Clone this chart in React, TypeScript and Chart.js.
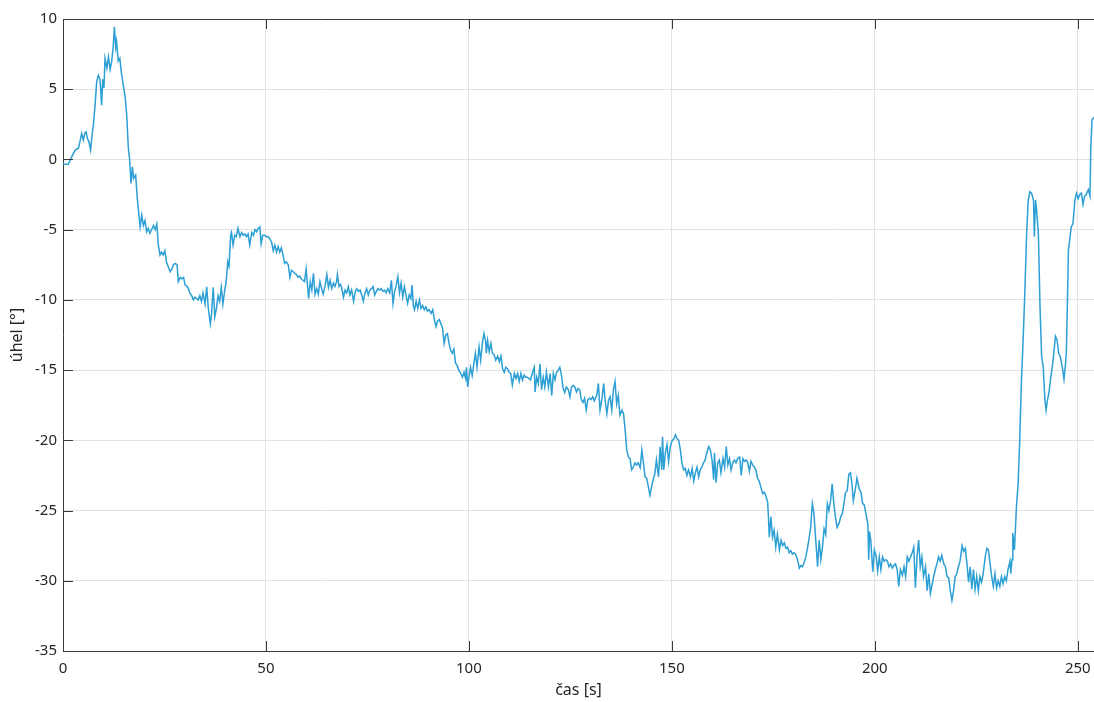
import React, { useEffect, useRef } from "react";
import { Chart, registerables } from "chart.js";

Chart.register(...registerables);

// time [s]
const timeS: number[] = [
  0, 0.7, 1.3, 2.0, 2.5, 3.0, 3.8, 4.2, 4.6, 5.0,
  5.4, 5.7, 6.0, 6.4, 6.8, 7.2, 7.5, 7.9, 8.3, 8.7,
  9.1, 9.3, 9.5, 9.8, 10.1, 10.35, 10.8, 11.2, 11.6, 12.0,
  12.4, 12.65, 13.0, 13.2, 13.6, 14.0, 14.4, 15.3, 15.7, 16.1,
  16.4, 16.75, 17.1, 17.4, 17.9, 18.3, 18.7, 19.0, 19.4, 19.8,
  20.2, 20.6, 21.0, 21.4, 21.9, 22.3, 22.7, 23.1, 23.5, 23.9,
  24.3, 24.7, 25.1, 25.5, 26.0, 26.4, 26.8, 27.2, 27.6, 28.1,
  28.4, 28.9, 29.3, 29.7, 30.1, 30.5, 30.9, 31.3, 31.7, 32.1,
  32.5, 32.9, 33.3, 33.7, 34.1, 34.5, 35.0, 35.4, 35.8, 36.3,
  36.6, 37.0, 37.4, 37.8, 38.2, 38.6, 39.0, 39.4, 39.8, 40.2,
  40.6, 40.9, 41.3, 41.5, 41.9, 42.3, 42.7, 43.1, 43.6, 44.0,
  44.4, 44.8, 45.2, 45.6, 46.0, 46.5, 46.9, 47.3, 47.7, 48.1,
  48.5, 48.8, 49.2, 49.7, 50.1, 50.6, 51.0, 51.4, 51.8, 52.2,
  52.6, 53.0, 53.4, 53.8, 54.2, 54.6, 55.0, 55.5, 55.9, 56.3,
  56.7, 57.1, 57.5, 57.9, 58.3, 58.7, 59.1, 59.5, 59.9, 60.5,
  60.9, 61.3, 61.7, 62.1, 62.5, 62.9, 63.3, 63.7, 64.1, 64.6,
  65.0, 65.4, 65.8, 66.2, 66.6, 67.0, 67.4, 67.6, 68.0, 68.3,
  68.6, 69.1, 69.5, 69.9, 70.3, 70.7, 71.1, 71.6, 72.0, 72.4,
  72.8, 73.2, 73.6, 74.0, 74.4, 74.8, 75.2, 75.6, 76.0, 76.4,
  76.8, 77.2, 77.6, 78.0, 78.4, 78.8, 79.2, 79.6, 80.0, 80.5,
  80.9, 81.3, 81.7, 82.1, 82.5, 82.9, 83.3, 83.7, 84.1, 84.5,
  84.9, 85.3, 85.7, 86.0, 86.3, 86.6, 87.0, 87.4, 87.8, 88.2,
  88.6, 89.0, 89.4, 89.8, 90.2, 90.7, 91.1, 91.5, 91.9, 92.3,
  92.7, 93.1, 93.5, 93.9, 94.3, 94.7, 95.1, 95.5, 95.9, 96.3,
  96.7, 97.1, 97.5, 98.0, 98.4, 98.8, 99.2, 99.4, 99.7, 100.0,
  100.4, 100.8, 101.2, 101.6, 102.0, 102.5, 102.9, 103.3, 103.7, 104.1,
  104.3, 104.6, 105.0, 105.4, 105.8, 106.2, 106.6, 107.1, 107.5, 107.9,
  108.3, 108.7, 109.1, 109.5, 109.9, 110.3, 110.7, 111.2, 111.6, 112.0,
  112.4, 112.8, 113.2, 113.6, 114.0, 114.4, 114.8, 115.2, 115.6, 116.1,
  116.3, 116.7, 117.1, 117.5, 117.9, 118.3, 118.7, 119.1, 119.6, 120.0,
  120.4, 120.8, 121.2, 121.6, 122.0, 122.4, 122.8, 123.2, 123.6, 124.0,
  124.5, 124.9, 125.3, 125.7, 126.1, 126.5, 126.9, 127.3, 127.7, 128.1,
  128.5, 128.9, 129.3, 129.7, 130.1, 130.5, 130.9, 131.3, 131.5, 131.9,
  132.3, 132.8, 133.2, 133.6, 134.0, 134.4, 134.8, 135.2, 135.6, 136.0,
  136.4, 136.8, 137.2, 137.7, 138.1, 138.5, 138.9, 139.3, 139.7, 140.1,
  140.5, 140.9, 141.3, 141.7, 142.2, 142.6, 143.0, 143.4, 143.8, 144.2,
  144.6, 145.0, 145.4, 145.8, 146.2, 146.7, 147.1, 147.5, 147.7, 148.0,
  148.4, 148.8, 149.2, 149.6, 150.1, 150.5, 150.9, 151.3, 151.7, 152.1,
  152.5, 152.9, 153.3, 153.7, 154.1, 154.6, 155.0, 155.4, 155.8, 156.2,
  156.6, 157.0, 157.4, 157.8, 158.2, 158.6, 159.1, 159.5, 159.9, 160.3,
  160.5, 160.9, 161.3, 161.7, 162.1, 162.6, 163.0, 163.4, 163.8, 164.2,
  164.6, 165.0, 165.4, 165.8, 166.2, 166.7, 167.1, 167.5, 167.9, 168.3,
  168.7, 169.1, 169.5, 169.9, 170.3, 170.7, 171.1, 171.5, 172.0, 172.4,
  172.8, 173.2, 173.6, 173.8, 174.0, 174.4, 174.8, 175.2, 175.6, 176.0,
  176.5, 176.9, 177.3, 177.7, 178.1, 178.5, 178.9, 179.3, 179.7, 180.1,
  180.5, 181.0, 181.4, 181.8, 182.2, 182.6, 183.0, 183.4, 183.8, 184.2,
  184.6, 185.0, 185.5, 185.9, 186.3, 186.7, 187.1, 187.5, 187.9, 188.3,
  188.7, 189.1, 189.5, 189.9, 190.3, 190.7, 191.2, 191.6, 192.0, 192.4,
  192.8, 193.2, 193.6, 194.0, 194.4, 194.7, 195.2, 195.6, 196.2, 196.6,
  197.0, 197.4, 197.8, 198.3, 198.5, 198.7, 199.0, 199.5, 199.9, 200.3,
  200.7, 201.1, 201.5, 201.9, 202.3, 202.7, 203.1, 203.5, 203.9, 204.3,
  204.7, 205.1, 205.5, 205.9, 206.3, 206.8, 207.2, 207.6, 208.0, 208.4,
  208.8, 209.2, 209.6, 210.0, 210.4, 210.8, 211.2, 211.6, 212.0, 212.5,
  212.9, 213.3, 213.7, 214.1, 214.5, 214.9, 215.3, 215.7, 216.1, 216.5,
  217.0, 217.4, 217.8, 218.2, 218.6, 219.0, 219.4, 219.8, 220.2, 220.6,
  221.0, 221.5, 221.9, 222.3, 222.7, 223.1, 223.5, 223.9, 224.3, 224.7,
  225.1, 225.5, 225.9, 226.3, 226.7, 227.2, 227.6, 228.0, 228.4, 228.8,
  229.2, 229.6, 230.0, 230.4, 230.8, 231.2, 231.6, 232.0, 232.4, 232.8,
  233.3, 233.5, 233.8, 234.0, 234.4, 234.9, 235.3, 235.7, 236.1, 236.6,
  237.0, 237.4, 237.8, 238.2, 238.6, 239.1, 239.3, 239.6, 239.8, 240.3,
  240.7, 241.1, 241.5, 241.9, 242.2, 242.5, 242.9, 243.3, 243.7, 244.1,
  244.5, 244.9, 245.3, 245.7, 246.2, 246.6, 247.0, 247.2, 247.5, 247.7,
  248.0, 248.4, 248.8, 249.3, 249.7, 250.1, 250.5, 250.9, 251.3, 251.7,
  252.1, 252.6, 253.0, 253.2, 253.5, 254.0,
];

// angle [deg]
const angleDeg: number[] = [
  -0.3, -0.35, -0.35, 0.1, 0.4, 0.67, 0.8, 1.3, 1.86, 1.38,
  1.9, 1.97, 1.5, 1.26, 0.67, 1.86, 2.5, 3.87, 5.53, 6.0,
  5.7, 5.0, 3.87, 5.7, 5.1, 7.2, 6.5, 7.3, 6.4, 7.0,
  8.15, 9.45, 8.0, 8.4, 7.0, 7.2, 6.13, 4.47, 3.16, 0.79,
  0.08, -1.7, -0.52, -1.35, -1.1, -2.77, -3.96, -4.79, -3.96, -4.7,
  -4.35, -5.15, -4.9, -5.25, -4.95, -4.7, -5.0, -4.6, -6.1, -6.8,
  -6.6, -6.8, -6.5, -7.3, -7.7, -8.0, -7.8, -7.5, -7.4, -7.5,
  -8.7, -8.4, -8.5, -8.4, -8.95, -9.0, -9.2, -9.54, -9.7, -10.0,
  -9.8, -9.9, -10.0, -9.7, -10.1, -9.5, -10.3, -9.07, -10.6, -11.7,
  -11.0, -9.1, -11.2, -10.6, -9.7, -10.1, -9.1, -10.3, -9.4, -8.7,
  -7.3, -7.6, -5.4, -5.2, -6.1, -5.4, -5.5, -4.9, -5.5, -5.2,
  -5.4, -5.3, -5.5, -5.3, -6.1, -5.2, -5.4, -5.0, -5.15, -4.9,
  -4.8, -6.0, -5.4, -5.4, -5.5, -5.5, -5.7, -5.9, -6.5, -6.1,
  -6.6, -6.2, -6.6, -6.3, -6.8, -7.4, -7.3, -7.5, -8.4, -7.9,
  -8.0, -8.1, -8.2, -8.4, -8.3, -8.5, -8.6, -8.7, -7.8, -9.9,
  -8.7, -9.3, -8.1, -9.6, -9.2, -9.6, -8.7, -9.2, -9.6, -8.95,
  -8.2, -9.1, -8.6, -9.2, -8.8, -9.05, -8.7, -8.2, -9.05, -8.9,
  -9.05, -9.8, -9.3, -9.5, -9.05, -9.65, -9.3, -10.1, -9.4, -9.2,
  -9.4, -9.3, -9.65, -10.1, -9.5, -9.2, -9.65, -9.3, -9.2, -9.05,
  -9.65, -9.4, -9.2, -9.3, -9.2, -9.4, -9.3, -9.5, -9.2, -9.5,
  -8.6, -10.25, -9.4, -8.95, -8.35, -9.5, -8.8, -9.8, -9.05, -9.65,
  -10.25, -9.65, -9.9, -8.95, -10.4, -10.7, -10.1, -10.6, -10.0, -10.6,
  -10.4, -10.7, -10.5, -10.8, -10.7, -10.96, -10.7, -11.4, -11.9, -11.5,
  -11.4, -11.7, -12.0, -13.1, -12.5, -12.4, -13.1, -13.6, -13.8, -13.5,
  -14.5, -14.65, -15.0, -15.24, -15.5, -15.15, -15.6, -14.8, -16.2, -15.5,
  -14.8, -15.4, -14.55, -13.8, -14.8, -13.35, -14.3, -13.1, -12.4, -12.9,
  -13.8, -12.9, -13.7, -13.1, -13.8, -13.9, -14.3, -14.0, -14.4, -14.0,
  -14.9, -15.15, -14.8, -14.9, -15.15, -15.24, -16.07, -15.24, -15.6, -15.24,
  -15.8, -15.24, -15.7, -15.35, -15.5, -15.5, -15.6, -15.7, -15.24, -14.8,
  -16.55, -15.5, -15.95, -14.55, -16.4, -15.5, -16.2, -15.15, -16.2, -15.24,
  -16.8, -15.24, -15.7, -15.15, -15.0, -14.8, -15.35, -16.3, -16.6, -16.2,
  -16.4, -16.9, -16.2, -16.1, -16.2, -16.55, -16.3, -16.4, -17.1, -17.3,
  -17.0, -17.85, -17.1, -17.0, -17.1, -16.9, -17.2, -16.9, -16.8, -15.95,
  -17.85, -17.0, -15.95, -17.26, -18.1, -17.15, -16.9, -17.85, -16.4, -15.8,
  -17.4, -16.8, -18.2, -17.85, -18.1, -19.3, -20.7, -21.2, -21.3, -22.1,
  -21.9, -21.6, -21.75, -21.6, -21.95, -20.7, -21.6, -22.6, -22.7, -23.3,
  -23.9, -23.3, -22.8, -22.4, -21.4, -22.6, -20.46, -22.1, -19.75, -22.1,
  -20.9, -20.3, -21.5, -20.45, -20.0, -19.9, -19.6, -19.9, -20.0, -20.7,
  -21.65, -22.1, -22.0, -22.5, -22.1, -22.6, -22.0, -22.9, -22.3, -21.9,
  -22.6, -22.1, -21.9, -21.6, -21.4, -20.9, -20.45, -20.7, -21.4, -22.8,
  -20.9, -23.0, -21.6, -21.4, -22.3, -21.3, -21.9, -20.45, -21.75, -21.3,
  -22.1, -21.6, -21.4, -21.6, -21.3, -21.2, -22.5, -21.3, -21.5, -21.4,
  -21.6, -22.2, -21.5, -21.75, -21.9, -22.1, -22.7, -22.9, -23.4, -23.8,
  -23.7, -24.0, -24.4, -25.45, -26.9, -25.45, -26.9, -26.4, -27.6, -26.7,
  -27.8, -27.1, -27.5, -27.3, -27.7, -27.6, -28.0, -27.85, -28.1, -28.0,
  -28.1, -28.55, -29.1, -28.9, -29.0, -28.7, -28.3, -27.7, -27.0, -26.2,
  -24.5, -25.2, -27.3, -29.0, -27.1, -28.5, -27.6, -26.3, -26.7, -24.5,
  -25.0, -24.3, -23.1, -24.5, -25.45, -26.2, -25.9, -25.45, -25.2, -24.5,
  -23.7, -23.6, -22.4, -22.3, -23.2, -24.3, -23.5, -22.7, -23.5, -23.7,
  -24.5, -24.6, -25.2, -26.0, -28.5, -26.5, -27.1, -29.35, -27.8, -28.2,
  -29.3, -28.3, -29.2, -28.3, -28.6, -28.5, -28.6, -29.0, -28.8, -29.1,
  -28.9, -28.8, -29.2, -30.4, -29.2, -29.6, -29.0, -29.7, -28.3, -28.6,
  -28.3, -28.0, -27.6, -30.5, -28.3, -27.1, -29.0, -28.3, -29.7, -29.0,
  -30.7, -29.5, -30.9, -30.3, -29.7, -29.2, -28.8, -28.3, -28.6, -28.2,
  -28.8, -29.0, -29.7, -29.8, -30.7, -31.4, -30.7, -29.7, -29.5, -29.0,
  -28.6, -27.5, -27.9, -27.7, -28.8, -30.1, -29.0, -30.6, -29.2, -30.6,
  -29.7, -30.7, -29.7, -30.1, -29.5, -28.3, -27.7, -27.8, -28.8, -29.7,
  -30.4, -29.5, -30.5, -30.0, -30.4, -29.7, -30.2, -29.7, -30.0, -29.2,
  -28.6, -29.5, -28.5, -26.6, -27.8, -24.7, -23.1, -20.0, -15.95, -12.4,
  -9.07, -5.3, -2.9, -2.3, -2.4, -2.9, -5.5, -2.9, -3.4, -5.3,
  -10.5, -14.05, -14.8, -17.1, -17.85, -17.2, -16.6, -15.65, -14.8, -13.8,
  -12.6, -12.85, -13.8, -14.05, -14.8, -15.65, -14.5, -13.6, -9.5, -6.45,
  -5.75, -4.8, -4.6, -2.9, -2.4, -2.8, -2.5, -2.4, -3.2, -2.6,
  -2.5, -2.15, -2.6, 0.7, 2.8, 3.0,
];

const xTicks: number[] = [0, 50, 100, 150, 200, 250];
const yTicks: number[] = [-35, -30, -25, -20, -15, -10, -5, 0, 5, 10];
const xTitle = "čas [s]";
const yTitle = "úhel [°]";

const FONT = "'Noto Sans', 'Open Sans', sans-serif";
const TEXT = "#262626";
const AXIS = "#3a3a3a";
const GRID = "#e2e2e2";
const LINE = "#2c9fd4";

const insideTicks = {
  id: "insideTicks",
  afterDraw(chart: any) {
    const { ctx, chartArea, scales } = chart;
    const { left, right, top, bottom } = chartArea;
    ctx.save();
    ctx.strokeStyle = AXIS;
    ctx.lineWidth = 1;
    ctx.beginPath();
    ctx.moveTo(left, Math.round(top) + 0.5);
    ctx.lineTo(right, Math.round(top) + 0.5);
    xTicks.forEach((v) => {
      const px = Math.round(scales.x.getPixelForValue(v)) + 0.5;
      ctx.moveTo(px, bottom);
      ctx.lineTo(px, bottom - 10);
      ctx.moveTo(px, top);
      ctx.lineTo(px, top + 10);
    });
    yTicks.forEach((v) => {
      const py = Math.round(scales.y.getPixelForValue(v)) + 0.5;
      ctx.moveTo(left, py);
      ctx.lineTo(left + 10, py);
    });
    ctx.stroke();
    ctx.restore();
  },
};

export default function App() {
  const ref = useRef<HTMLCanvasElement | null>(null);
  useEffect(() => {
    if (!ref.current) return;
    const points = timeS.map((t, i) => ({ x: t, y: angleDeg[i] }));
    const chart = new Chart(ref.current, {
      type: "line",
      data: {
        datasets: [
          {
            data: points,
            borderColor: LINE,
            borderWidth: 1.5,
            pointRadius: 0,
            tension: 0,
            fill: false,
          },
        ],
      },
      options: {
        animation: false,
        responsive: false,
        layout: { padding: { top: 19, left: 0, right: 0, bottom: 0 } },
        plugins: { legend: { display: false }, tooltip: { enabled: false } },
        scales: {
          x: {
            type: "linear",
            min: 0,
            max: 254,
            afterBuildTicks: (s: any) => {
              s.ticks = xTicks.map((v) => ({ value: v }));
            },
            afterFit: (s: any) => {
              s.height = 51;
              s.paddingLeft = 0;
              s.paddingRight = 0;
            },
            grid: { color: GRID, drawTicks: false },
            border: { color: AXIS, width: 1 },
            ticks: {
              color: TEXT,
              font: { family: FONT, size: 15 },
              padding: 9,
              maxRotation: 0,
              autoSkip: false,
            },
            title: {
              display: true,
              text: xTitle,
              color: TEXT,
              font: { family: FONT, size: 16 },
              padding: { top: 0, bottom: 2 },
            },
          },
          y: {
            type: "linear",
            min: -35,
            max: 10,
            afterBuildTicks: (s: any) => {
              s.ticks = yTicks.map((v) => ({ value: v }));
            },
            afterFit: (s: any) => {
              s.width = 63;
              s.paddingTop = 0;
              s.paddingBottom = 0;
            },
            grid: { color: GRID, drawTicks: false },
            border: { color: AXIS, width: 1 },
            ticks: {
              color: TEXT,
              font: { family: FONT, size: 15 },
              padding: 6,
              autoSkip: false,
            },
            title: {
              display: true,
              text: yTitle,
              color: TEXT,
              font: { family: FONT, size: 16 },
              padding: { top: 8, bottom: 0 },
            },
          },
        },
      },
      plugins: [insideTicks],
    });
    return () => chart.destroy();
  }, []);
  return (
    <div style={{ position: "absolute", left: 0, top: 0, width: 1094, height: 702, background: "#fff" }}>
      <canvas ref={ref} width={1094} height={702} style={{ display: "block" }} />
    </div>
  );
}
